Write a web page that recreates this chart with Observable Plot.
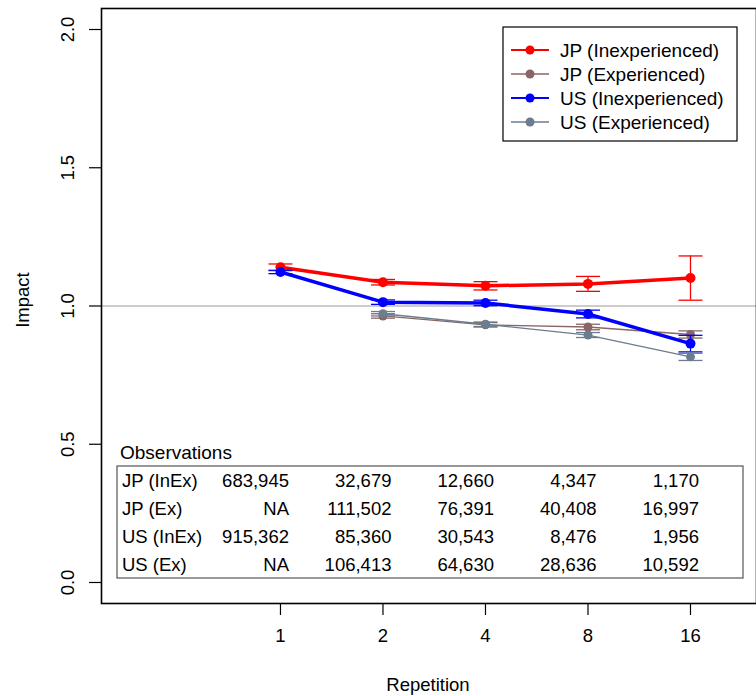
<!DOCTYPE html>
<html><head><meta charset="utf-8">
<script src="https://cdn.jsdelivr.net/npm/d3@7"></script>
<script src="https://cdn.jsdelivr.net/npm/@observablehq/plot@0.6"></script>
<style>
body{margin:0;background:#fff}
svg{font-family:"Liberation Sans",Arial,Helvetica,sans-serif}
</style>
</head><body><div id="chart"></div>
<script>
// ---- data ----
const repetitions = [1, 2, 4, 8, 16];
const seriesNames = ["JP (Inexperienced)", "JP (Experienced)", "US (Inexperienced)", "US (Experienced)"];
const seriesColors = ["#ff0000", "#8b6565", "#0000ff", "#6b7d8e"];
const jpInexImpact = [1.140, 1.086, 1.073, 1.080, 1.101];
const jpInexErr    = [0.012, 0.010, 0.015, 0.027, 0.080];
const jpExImpact   = [null, 0.964, 0.932, 0.924, 0.897];
const jpExErr      = [null, 0.008, 0.008, 0.010, 0.013];
const usInexImpact = [1.123, 1.014, 1.011, 0.971, 0.864];
const usInexErr    = [0.006, 0.008, 0.010, 0.014, 0.030];
const usExImpact   = [null, 0.972, 0.934, 0.895, 0.816];
const usExErr      = [null, 0.008, 0.008, 0.009, 0.013];
const yTicks = [0, 0.5, 1, 1.5, 2];
const tableTitle = "Observations";
const tableRowLabels = ["JP (InEx)", "JP (Ex)", "US (InEx)", "US (Ex)"];
const jpInexObs = ["683,945", "32,679", "12,660", "4,347", "1,170"];
const jpExObs   = ["NA", "111,502", "76,391", "40,408", "16,997"];
const usInexObs = ["915,362", "85,360", "30,543", "8,476", "1,956"];
const usExObs   = ["NA", "106,413", "64,630", "28,636", "10,592"];

// ---- build tables ----
const impacts = [jpInexImpact, jpExImpact, usInexImpact, usExImpact];
const errs = [jpInexErr, jpExErr, usInexErr, usExErr];
const obsRows = [jpInexObs, jpExObs, usInexObs, usExObs];
const series = seriesNames.map((name, s) => ({
  name, color: seriesColors[s], inex: s % 2 === 0,
  rows: repetitions.map((rep, i) => ({rep, impact: impacts[s][i], lo: impacts[s][i] - errs[s][i], hi: impacts[s][i] + errs[s][i]}))
                   .filter(d => d.impact != null)
}));

const capSymbol = {draw(ctx) { ctx.moveTo(-12, 0); ctx.lineTo(12, 0); }};

const marks = [
  Plot.ruleY([1], {stroke: "#9a9a9a", strokeWidth: 1}),
  Plot.axisX({ticks: repetitions, tickFormat: d => String(d), tickSize: 12, tickPadding: 13, label: null, fontSize: 18.5, stroke: "#000", strokeWidth: 1.2}),
  Plot.axisY({ticks: yTicks, tickSize: 12, tickFormat: () => "", label: null, strokeWidth: 1.2}),
  Plot.text(yTicks, {y: d => d, text: d => d.toFixed(1), frameAnchor: "left", dx: -33, rotate: -90, textAnchor: "middle", lineAnchor: "middle", fontSize: 18.5, fill: "#000"})
];
for (const s of series) {
  marks.push(
    Plot.ruleX(s.rows, {x: "rep", y1: "lo", y2: "hi", stroke: s.color, strokeWidth: 1.3}),
    Plot.dot(s.rows, {x: "rep", y: "lo", symbol: capSymbol, r: 3, fill: "none", stroke: s.color, strokeWidth: 1.3}),
    Plot.dot(s.rows, {x: "rep", y: "hi", symbol: capSymbol, r: 3, fill: "none", stroke: s.color, strokeWidth: 1.3}),
    Plot.line(s.rows, {x: "rep", y: "impact", stroke: s.color, strokeWidth: s.inex ? 3.5 : 1.3}),
    Plot.dot(s.rows, {x: "rep", y: "impact", fill: s.color, r: s.inex ? 5 : 4.5, stroke: "none"})
  );
}
marks.push(Plot.frame({stroke: "#000", strokeWidth: 1.6}));

const plot = Plot.plot({
  width: 756, height: 696,
  marginLeft: 101, marginRight: 0, marginTop: 8, marginBottom: 93,
  style: {background: "#fff", color: "#000", fontSize: "18px"},
  x: {type: "log", base: 2, domain: [Math.pow(2, -1.746), Math.pow(2, 4.644)]},
  y: {domain: [-0.076, 2.076]},
  marks
});

const svg = d3.select(plot);
const xs = plot.scale("x");
const ff = '"Liberation Sans",Arial,sans-serif';
const txt = (g, x, y, s, anchor, size) => g.append("text").attr("x", x).attr("y", y)
  .attr("text-anchor", anchor).attr("dominant-baseline", "central")
  .attr("font-size", size).attr("font-family", ff).attr("fill", "#000").text(s);

// axis titles
svg.append("text").attr("transform", "translate(22,300) rotate(-90)").attr("text-anchor", "middle")
  .attr("dominant-baseline", "central").attr("font-size", 18.5).attr("font-family", ff).text("Impact");
txt(svg, 428, 684, "Repetition", "middle", 18.5);

// legend
const lg = svg.append("g");
lg.append("rect").attr("x", 503).attr("y", 27).attr("width", 234).attr("height", 114)
  .attr("fill", "#fff").attr("stroke", "#000").attr("stroke-width", 1.2);
series.forEach((s, k) => {
  const cy = 50 + k * 24;
  lg.append("line").attr("x1", 511).attr("x2", 549).attr("y1", cy).attr("y2", cy)
    .attr("stroke", s.color).attr("stroke-width", s.inex ? 2 : 1.3);
  lg.append("circle").attr("cx", 530).attr("cy", cy).attr("r", 4.5).attr("fill", s.color);
  txt(lg, 560, cy, s.name, "start", 19);
});

// observations table
const tg = svg.append("g");
txt(tg, 120, 452, tableTitle, "start", 19);
tg.append("rect").attr("x", 117).attr("y", 466).attr("width", 626).attr("height", 112)
  .attr("fill", "none").attr("stroke", "#555").attr("stroke-width", 1.2);
tableRowLabels.forEach((lab, r) => {
  const cy = 480 + r * 28;
  txt(tg, 122, cy, lab, "start", 18.5);
  obsRows[r].forEach((v, i) => txt(tg, xs.apply(repetitions[i]) + 9, cy, v, "end", 18.5));
});

document.getElementById("chart").appendChild(plot);
</script>
</body></html>
